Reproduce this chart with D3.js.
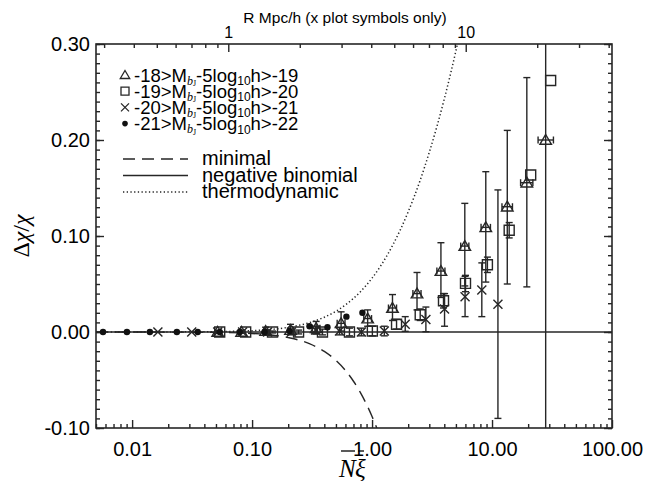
<!DOCTYPE html>
<html><head><meta charset="utf-8">
<script src="https://cdn.jsdelivr.net/npm/d3@7"></script>
<style>body{margin:0;background:#fff} svg{display:block}</style>
</head><body><svg id="c" width="647" height="481"></svg>
<script>
// ---------- data ----------
const xTickValues = [0.01, 0.1, 1, 10, 100];
const xTickLabels = ["0.01", "0.10", "1.00", "10.00", "100.00"];
const yTickValues = [-0.1, 0, 0.1, 0.2, 0.3];
const yTickLabels = ["-0.10", "0.00", "0.10", "0.20", "0.30"];
const rTickValues = [1, 10];
const rTickLabels = ["1", "10"];

// -18>M>-19 (triangles)
const triX  = [0.0517, 0.0818, 0.1297, 0.209, 0.342, 0.552, 0.919, 1.48, 2.37, 3.75, 5.93, 8.87, 13.4, 19.5, 28.0];
const triY  = [0, 0, 0.001, 0.002, 0.004, 0.009, 0.014, 0.025, 0.040, 0.0635, 0.0895, 0.109, 0.1305, 0.1555, 0.200];
const triLo = [-0.001, -0.001, -0.003, -0.003, -0.002, 0.001, 0.006, 0.012, 0.023, 0.036, 0.048, 0.052, 0.050, 0.047, -0.20];
const triHi = [0.001, 0.002, 0.005, 0.008, 0.011, 0.021, 0.023, 0.039, 0.062, 0.093, 0.134, 0.167, 0.210, 0.265, 0.45];
const triXLo = [null, null, null, null, 0.318, 0.512, 0.853, 1.37, 2.19, 3.47, 5.48, 8.10, 12.1, 17.3, 24.2];
const triXHi = [null, null, null, null, 0.368, 0.595, 0.990, 1.60, 2.56, 4.05, 6.41, 9.70, 14.8, 21.9, 32.5];

// -19>M>-20 (squares)
const sqX  = [0.0537, 0.0884, 0.148, 0.244, 0.386, 0.648, 1.006, 1.60, 2.52, 3.94, 6.01, 9.15, 13.9, 21.0, 30.8];
const sqY  = [0, 0, 0, 0, 0, 0, 0.001, 0.008, 0.018, 0.0326, 0.0507, 0.070, 0.106, 0.1635, 0.262];
const sqLo = [0, 0, -0.001, -0.002, -0.003, -0.004, -0.004, 0.003, 0.012, 0.025, 0.042, 0.062, 0.098, 0.1635, 0.262];
const sqHi = [0, 0, 0.001, 0.002, 0.003, 0.004, 0.006, 0.013, 0.024, 0.040, 0.059, 0.078, 0.114, 0.1635, 0.262];

// -20>M>-21 (crosses)
const crX  = [0.0164, 0.0314, 0.0517, 0.0834, 0.1347, 0.213, 0.338, 0.535, 0.815, 1.265, 1.89, 2.81, 4.02, 5.96, 8.22, 11.2];
const crY  = [0, 0, 0, 0, 0, 0, 0.002, 0.001, 0, 0.001, 0.008, 0.013, 0.024, 0.0368, 0.0438, 0.029];
const crLo = [0, 0, -0.001, -0.001, -0.002, -0.002, -0.002, -0.003, -0.004, -0.004, 0.0007, 0.0003, 0.006, 0.016, 0.016, -0.090];
const crHi = [0, 0, 0.001, 0.001, 0.002, 0.002, 0.006, 0.005, 0.004, 0.006, 0.016, 0.026, 0.040, 0.058, 0.072, 0.148];

// -21>M>-22 (filled circles)
const dotX = [0.00572, 0.00905, 0.01406, 0.0236, 0.0352, 0.0537, 0.0788, 0.127, 0.205, 0.301, 0.425, 0.611, 0.831];
const dotY = [0, 0, 0, 0, 0, 0, 0, 0, 0.001, 0.006, 0.005, 0.016, 0.020];

// model curves
const minX = [0.005, 0.01, 0.02, 0.05, 0.1, 0.2, 0.3, 0.4, 0.5, 0.6, 0.7, 0.8, 0.9, 1.0, 1.1, 1.15];
const minY = [0, 0, -0.0001, -0.0004, -0.0015, -0.0058, -0.0121, -0.0202, -0.0296, -0.0400, -0.0513, -0.0631, -0.0754, -0.0880, -0.1008, -0.1073];
const nbX = [0.005, 100];
const nbY = [0, 0];
const thX = [0.005, 0.01, 0.02, 0.05, 0.1, 0.2, 0.3, 0.4, 0.5, 0.6, 0.8, 1.0, 1.2, 1.5, 2.0, 2.5, 3.0, 3.5, 4.0, 4.5, 5.0, 5.3];
const thY = [0, 0, 0.0001, 0.0004, 0.0014, 0.0049, 0.0097, 0.0154, 0.0216, 0.0282, 0.0420, 0.0561, 0.0703, 0.0914, 0.1251, 0.1570, 0.1872, 0.2156, 0.2427, 0.2684, 0.2929, 0.3072];

const magBright = ["-18", "-19", "-20", "-21"];
const magFaint  = ["-19", "-20", "-21", "-22"];
const modelNames = ["minimal", "negative binomial", "thermodynamic"];
const topTitle = "R Mpc/h (x plot symbols only)";

// ---------- drawing ----------
const svg = d3.select("#c");
const INK = "#262626";
const L = 96, R = 612, T = 44, B = 428;
const x = d3.scaleLog().domain([0.005, 100]).range([L, R]);
const y = d3.scaleLinear().domain([-0.1, 0.3]).range([B, T]);
const r = d3.scaleLog().domain([0.2773, 41.3]).range([L, R]);
const SANS = "'Liberation Sans', Arial, Helvetica, sans-serif";
const SERIF = "'Liberation Serif', 'Times New Roman', serif";

svg.append("rect").attr("width", 647).attr("height", 481).attr("fill", "#fff");

// minor tick values
const xMinor = [];
for (let e = -3; e <= 1; e++) for (let k = 2; k <= 9; k++) { const v = k * Math.pow(10, e); if (v >= 0.005 && v < 100) xMinor.push(v); }
const yMinor = d3.range(-10, 31).map(i => i / 100);
const rMinor = [];
for (let e = -1; e <= 1; e++) for (let k = 2; k <= 9; k++) { const v = k * Math.pow(10, e); if (v >= 0.2773 && v <= 41.3) rMinor.push(v); }

function styleAxis(g) {
  g.selectAll("path").remove();
  g.selectAll("line").attr("stroke", INK).attr("stroke-width", 1.4);
  g.selectAll("text").attr("fill", "#000").attr("font-family", SANS);
}

// bottom axis
svg.append("g").attr("transform", `translate(0,${B})`)
  .call(d3.axisBottom(x).tickValues(xMinor).tickSize(-4).tickFormat(""))
  .call(styleAxis);
svg.append("g").attr("transform", `translate(0,${B})`)
  .call(d3.axisBottom(x).tickValues(xTickValues).tickSize(-8).tickPadding(14)
    .tickFormat((d, i) => xTickLabels[i]))
  .call(styleAxis).selectAll("text").attr("font-size", 20);
// top axis (R)
svg.append("g").attr("transform", `translate(0,${T})`)
  .call(d3.axisTop(r).tickValues(rMinor).tickSize(-4).tickFormat(""))
  .call(styleAxis);
svg.append("g").attr("transform", `translate(0,${T})`)
  .call(d3.axisTop(r).tickValues(rTickValues).tickSize(-8).tickPadding(6)
    .tickFormat((d, i) => rTickLabels[i]))
  .call(styleAxis).selectAll("text").attr("font-size", 16);
// left axis
svg.append("g").attr("transform", `translate(${L},0)`)
  .call(d3.axisLeft(y).tickValues(yMinor).tickSize(-4).tickFormat(""))
  .call(styleAxis);
svg.append("g").attr("transform", `translate(${L},0)`)
  .call(d3.axisLeft(y).tickValues(yTickValues).tickSize(-8).tickPadding(6)
    .tickFormat((d, i) => yTickLabels[i]))
  .call(styleAxis).selectAll("text").attr("font-size", 20);
// right axis
svg.append("g").attr("transform", `translate(${R},0)`)
  .call(d3.axisRight(y).tickValues(yMinor).tickSize(-4).tickFormat(""))
  .call(styleAxis);
svg.append("g").attr("transform", `translate(${R},0)`)
  .call(d3.axisRight(y).tickValues(yTickValues).tickSize(-8).tickFormat(""))
  .call(styleAxis);
// frame
svg.append("rect").attr("x", L).attr("y", T).attr("width", R - L).attr("height", B - T)
  .attr("fill", "none").attr("stroke", INK).attr("stroke-width", 1.6);

// axis titles
svg.append("text").attr("x", 345).attr("y", 23).attr("text-anchor", "middle")
  .attr("font-family", SANS).attr("font-size", 15.5).text(topTitle);

const yl = svg.append("text").attr("transform", "translate(29,236) rotate(-90)")
  .attr("text-anchor", "middle").attr("font-family", SERIF).attr("font-size", 24);
yl.append("tspan").text("Δ");
yl.append("tspan").attr("font-style", "italic").text("χ");
yl.append("tspan").text("/");
yl.append("tspan").attr("font-style", "italic").text("χ");

const xl = svg.append("g").attr("font-family", SERIF).attr("font-size", 25).attr("font-style", "italic");
const tN = xl.append("text").attr("x", 339).attr("y", 477).text("N");
const tXi = xl.append("text").attr("x", 355).attr("y", 477).text("ξ");
[tN, tXi].forEach(t => {
  const bb = t.node().getBBox();
  xl.append("line").attr("x1", bb.x + 3).attr("x2", bb.x + bb.width - 2)
    .attr("y1", 451).attr("y2", 451).attr("stroke", "#000").attr("stroke-width", 1.3);
});

// data layer
svg.append("clipPath").attr("id", "clip").append("rect")
  .attr("x", L).attr("y", T).attr("width", R - L).attr("height", B - T);
const plot = svg.append("g").attr("clip-path", "url(#clip)");

const line = d3.line().x(d => x(d[0])).y(d => y(d[1])).curve(d3.curveMonotoneX);
plot.append("path").datum(d3.zip(nbX, nbY)).attr("d", line)
  .attr("fill", "none").attr("stroke", INK).attr("stroke-width", 1.4);
plot.append("path").datum(d3.zip(minX, minY)).attr("d", line)
  .attr("fill", "none").attr("stroke", INK).attr("stroke-width", 1.4).attr("stroke-dasharray", "12,7");
plot.append("path").datum(d3.zip(thX, thY)).attr("d", line)
  .attr("fill", "none").attr("stroke", INK).attr("stroke-width", 1.5).attr("stroke-dasharray", "1.3,2.4");

function errBars(xs, ys, lo, hi) {
  const g = plot.append("g").attr("stroke", INK).attr("stroke-width", 1.4);
  xs.forEach((xv, i) => {
    if (lo[i] === hi[i]) return;
    const cx = x(xv);
    g.append("line").attr("x1", cx).attr("x2", cx).attr("y1", y(lo[i])).attr("y2", y(hi[i]));
    [lo[i], hi[i]].forEach(v => g.append("line").attr("x1", cx - 3.5).attr("x2", cx + 3.5)
      .attr("y1", y(v)).attr("y2", y(v)));
  });
}
function xErrBars(xs, ys, lo, hi) {
  const g = plot.append("g").attr("stroke", INK).attr("stroke-width", 1.4);
  xs.forEach((xv, i) => {
    if (lo[i] == null) return;
    const cy = y(ys[i]);
    g.append("line").attr("x1", x(lo[i])).attr("x2", x(hi[i])).attr("y1", cy).attr("y2", cy);
    [lo[i], hi[i]].forEach(v => g.append("line").attr("x1", x(v)).attr("x2", x(v))
      .attr("y1", cy - 3.5).attr("y2", cy + 3.5));
  });
}
errBars(triX, triY, triLo, triHi);
xErrBars(triX, triY, triXLo, triXHi);
errBars(sqX, sqY, sqLo, sqHi);
errBars(crX, crY, crLo, crHi);

const triPath = s => `M0,${-s}L${s * 1.05},${s * 0.78}L${-s * 1.05},${s * 0.78}Z`;
const sqPath = s => `M${-s},${-s}H${s}V${s}H${-s}Z`;
const crPath = s => `M${-s},${-s}L${s},${s}M${-s},${s}L${s},${-s}`;

function symbols(xs, ys, pathStr, fill) {
  plot.append("g").selectAll("path").data(d3.zip(xs, ys)).join("path")
    .attr("transform", d => `translate(${x(d[0])},${y(d[1])})`)
    .attr("d", pathStr).attr("fill", fill).attr("stroke", INK).attr("stroke-width", 1.4);
}
symbols(triX, triY, triPath(5.5), "none");
symbols(sqX, sqY, sqPath(5), "none");
symbols(crX, crY, crPath(4.5), "none");
plot.append("g").selectAll("circle").data(d3.zip(dotX, dotY)).join("circle")
  .attr("cx", d => x(d[0])).attr("cy", d => y(d[1])).attr("r", 3.2).attr("fill", "#111");

// legend (symbols)
const leg = svg.append("g").attr("font-family", SANS).attr("font-size", 20);
const legSym = [triPath(4.5), sqPath(4), crPath(4), null];
magBright.forEach((b, i) => {
  const cy = 75 + i * 16.2;
  if (legSym[i]) leg.append("path").attr("transform", `translate(125,${cy})`).attr("d", legSym[i])
    .attr("fill", "none").attr("stroke", INK).attr("stroke-width", 1.3);
  else leg.append("circle").attr("cx", 125).attr("cy", cy).attr("r", 2.8).attr("fill", "#111");
  const t = leg.append("text").attr("x", 134).attr("y", cy + 6.5).attr("font-size", 18.5);
  t.append("tspan").text(b + ">M");
  t.append("tspan").attr("font-family", SERIF).attr("font-style", "italic").attr("font-size", 12)
    .attr("dy", 3).text("b");
  t.append("tspan").attr("font-family", SERIF).attr("font-size", 8).attr("dy", 1.5).text("J");
  t.append("tspan").attr("dy", -4.5).text("-5log");
  t.append("tspan").attr("font-size", 12).attr("dy", 3.5).text("10");
  t.append("tspan").attr("dy", -3.5).text("h>" + magFaint[i]);
});
// legend (lines)
const dashes = ["12,7", null, "1.3,2.4"];
modelNames.forEach((n, i) => {
  const cy = 159 + i * 16.5;
  const l = leg.append("line").attr("x1", 123).attr("x2", 188).attr("y1", cy).attr("y2", cy)
    .attr("stroke", INK).attr("stroke-width", 1.4);
  if (dashes[i]) l.attr("stroke-dasharray", dashes[i]);
  leg.append("text").attr("x", 202).attr("y", cy + 6).text(n);
});
</script></body></html>
